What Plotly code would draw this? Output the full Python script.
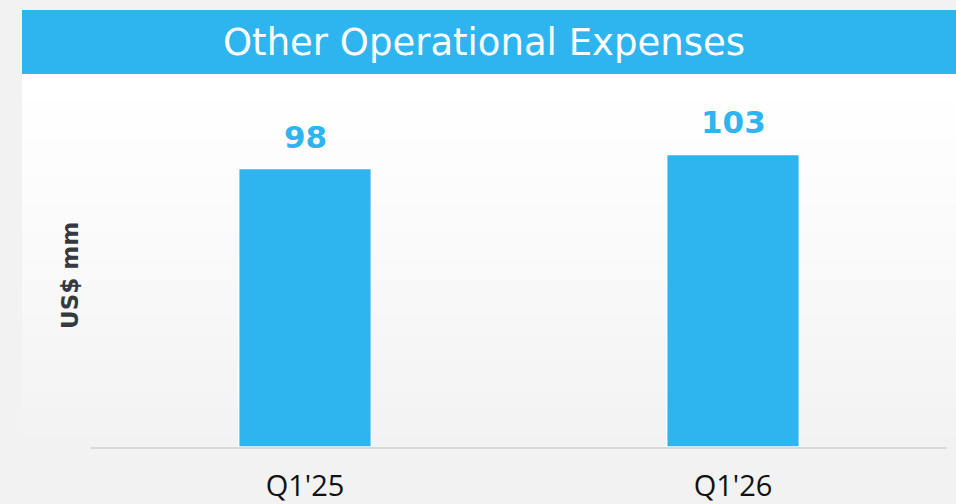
import plotly.graph_objects as go

categories = ["Q1'25", "Q1'26"]
values = [98, 103]
title_text = "Other Operational Expenses"
y_title = "US$ mm"

BLUE = "#2eb5ef"
BG = "#f2f2f2"

W, H = 956, 504
ML, MR, MT, MB = 91, 9, 74, 57
PW = W - ML - MR
PH = H - MT - MB


def px_x(px):
    return (px - ML) / PW


def px_y(py):
    return (H - MB - py) / PH


fig = go.Figure()
fig.add_trace(go.Bar(
    x=categories, y=values,
    marker=dict(color=BLUE, line=dict(color="white", width=1.5)),
    hoverinfo="skip",
))

shapes = []
# gradient panel
n = 40
top, bot = 74, 447
for i in range(n):
    y0 = top + (bot - top) * i / n
    y1 = top + (bot - top) * (i + 1) / n
    t = ((i + 0.5) / n) ** 1.25
    c = round(255 - (255 - 242) * t)
    shapes.append(dict(type="rect", xref="paper", yref="paper",
                       x0=px_x(22), x1=px_x(956), y0=px_y(y1), y1=px_y(y0) + 0.002,
                       fillcolor=f"rgb({c},{c},{c})", line=dict(width=0), layer="below"))
# header band
shapes.append(dict(type="rect", xref="paper", yref="paper",
                   x0=px_x(22), x1=px_x(956), y0=px_y(74), y1=px_y(10),
                   fillcolor=BLUE, line=dict(width=0), layer="below"))

annotations = [
    dict(text=title_text, xref="paper", yref="paper", x=px_x(484), y=px_y(43),
         xanchor="center", yanchor="middle", showarrow=False,
         font=dict(family="DejaVu Sans", size=37, color="white")),
    dict(text=y_title, xref="paper", yref="paper", x=px_x(70), y=px_y(276),
         xanchor="center", yanchor="middle", showarrow=False, textangle=-90,
         font=dict(family="DejaVu Sans", size=23, color="#343a40", weight="bold")),
]
for c, v in zip(categories, values):
    annotations.append(dict(text=str(v), x=c, y=v, xref="x", yref="y",
                            yanchor="bottom", yshift=12, showarrow=False,
                            font=dict(family="DejaVu Sans", size=31, color=BLUE, weight="bold")))

fig.update_layout(
    width=W, height=H, autosize=False,
    margin=dict(l=ML, r=MR, t=MT, b=MB, autoexpand=False),
    paper_bgcolor=BG, plot_bgcolor="rgba(0,0,0,0)",
    showlegend=False, bargap=0.69,
    shapes=shapes, annotations=annotations,
    xaxis=dict(showline=True, linecolor="#d9d9d9", linewidth=2, showgrid=False,
               automargin=False,
               ticks="outside", ticklen=12, tickcolor="rgba(0,0,0,0)",
               tickfont=dict(family="Open Sans", size=29, color="#111111"),
               range=[-0.5, 1.5], fixedrange=True),
    yaxis=dict(range=[0, 131.3], showgrid=False, showticklabels=False,
               automargin=False,
               zeroline=False, showline=False, fixedrange=True),
)

fig.write_html(
    "out.html",
    config={"responsive": False, "displayModeBar": False},
    post_script="document.body.style.margin='0px';document.body.style.overflow='hidden';",
)
